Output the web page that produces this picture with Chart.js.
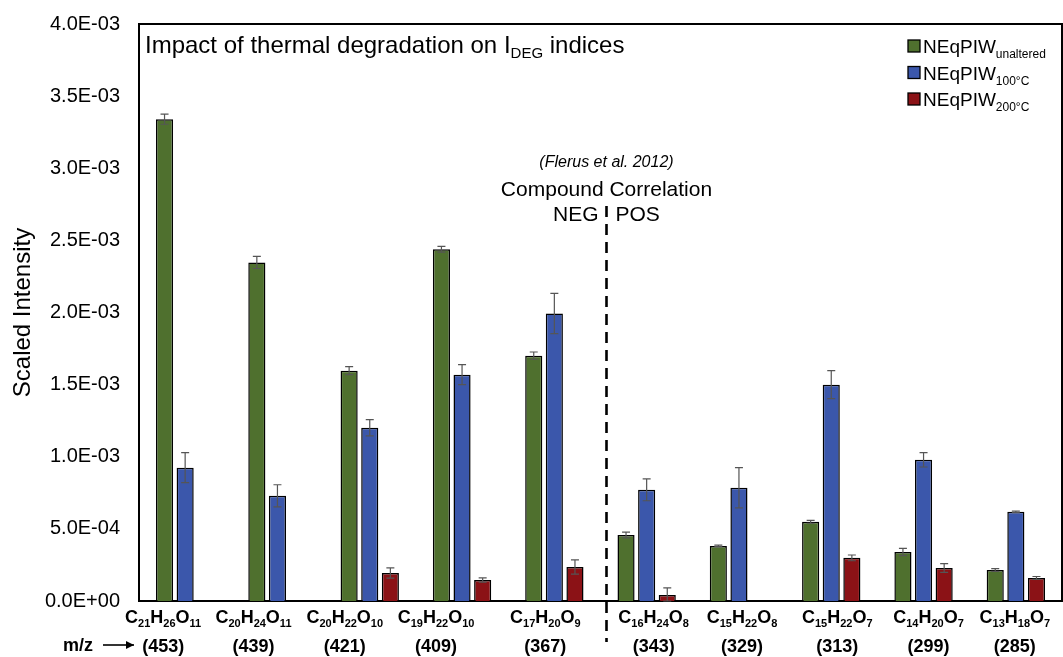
<!DOCTYPE html>
<html>
<head>
<meta charset="utf-8">
<script src="https://cdn.jsdelivr.net/npm/chart.js@4/dist/chart.umd.min.js"></script>
<style>
  body { margin: 0; background: #fff; }
  #wrap { width: 1063px; height: 657px; position: relative; }
</style>
</head>
<body>
<div id="wrap"><canvas id="degChart"></canvas></div>
<script>
const formulas = ["C21H26O11", "C20H24O11", "C20H22O10", "C19H22O10", "C17H20O9",
  "C16H24O8", "C15H22O8", "C15H22O7", "C14H20O7", "C13H18O7"];
const mzValues = ["(453)", "(439)", "(421)", "(409)", "(367)", "(343)", "(329)", "(313)", "(299)", "(285)"];

const unaltered = [3.34e-3, 2.347e-3, 1.597e-3, 2.438e-3, 1.701e-3, 0.458e-3, 0.382e-3, 0.549e-3, 0.34e-3, 0.215e-3];
const unalteredErr = [0.035e-3, 0.042e-3, 0.028e-3, 0.02e-3, 0.025e-3, 0.02e-3, 0.005e-3, 0.01e-3, 0.025e-3, 0.01e-3];
const heated100 = [0.924e-3, 0.729e-3, 1.201e-3, 1.569e-3, 1.993e-3, 0.771e-3, 0.785e-3, 1.5e-3, 0.979e-3, 0.618e-3];
const heated100Err = [0.104e-3, 0.077e-3, 0.056e-3, 0.069e-3, 0.139e-3, 0.076e-3, 0.139e-3, 0.097e-3, 0.05e-3, 0.005e-3];
const heated200 = [null, null, 0.194e-3, 0.146e-3, 0.236e-3, 0.042e-3, null, 0.299e-3, 0.229e-3, 0.16e-3];
const heated200Err = [0, 0, 0.035e-3, 0.015e-3, 0.049e-3, 0.049e-3, 0, 0.02e-3, 0.03e-3, 0.01e-3];

const seriesNames = ["unaltered", "100°C", "200°C"];
const colors = ["#4f702e", "#3b57ab", "#8b1216"];
const errors = [unalteredErr, heated100Err, heated200Err];

// manual shift of the x labels, as in the original figure
const labelNudge = [-22, -24, -25, -26, -9, 7, 3, 6, 5, -1];

const FONT = "'Liberation Sans', Arial, sans-serif";

function sci(v) {
  if (Math.abs(v) < 1e-12) return "0.0E+00";
  const e = Math.floor(Math.log10(v) + 1e-9);
  const m = v / Math.pow(10, e);
  const sign = e < 0 ? "-" : "+";
  return m.toFixed(1) + "E" + sign + String(Math.abs(e)).padStart(2, "0");
}

function drawFormula(ctx, text, cx, y) {
  const parts = text.match(/[A-Z][a-z]?\d*/g);
  const big = "bold 18px " + FONT;
  const small = "bold 11px " + FONT;
  let w = 0;
  parts.forEach((p) => {
    const el = p.match(/[A-Z][a-z]?/)[0];
    const num = p.slice(el.length);
    ctx.font = big; w += ctx.measureText(el).width;
    ctx.font = small; w += ctx.measureText(num).width;
  });
  let x = cx - w / 2;
  ctx.textAlign = "left";
  ctx.textBaseline = "alphabetic";
  parts.forEach((p) => {
    const el = p.match(/[A-Z][a-z]?/)[0];
    const num = p.slice(el.length);
    ctx.font = big; ctx.fillText(el, x, y); x += ctx.measureText(el).width;
    ctx.font = small; ctx.fillText(num, x, y + 4); x += ctx.measureText(num).width;
  });
}

const decorPlugin = {
  id: "decor",
  afterDatasetsDraw(chart) {
    const ctx = chart.ctx;
    const yScale = chart.scales.y;
    ctx.save();
    ctx.strokeStyle = "#555";
    ctx.lineWidth = 1.2;
    chart.data.datasets.forEach((ds, i) => {
      const meta = chart.getDatasetMeta(i);
      meta.data.forEach((bar, j) => {
        const v = ds.data[j];
        if (v === null) return;
        const e = errors[i][j];
        const top = yScale.getPixelForValue(v + e);
        const bot = yScale.getPixelForValue(Math.max(v - e, 0));
        ctx.beginPath();
        ctx.moveTo(bar.x, top); ctx.lineTo(bar.x, bot);
        ctx.moveTo(bar.x - 4, top); ctx.lineTo(bar.x + 4, top);
        ctx.moveTo(bar.x - 4, bot); ctx.lineTo(bar.x + 4, bot);
        ctx.stroke();
      });
    });
    ctx.restore();
  },
  afterDraw(chart) {
    const ctx = chart.ctx;
    const area = chart.chartArea;
    const xScale = chart.scales.x;
    ctx.save();
    ctx.fillStyle = "#000";
    ctx.strokeStyle = "#000";

    // plot frame top / right
    ctx.lineWidth = 2;
    ctx.beginPath();
    ctx.moveTo(area.left - 1, area.top);
    ctx.lineTo(area.right, area.top);
    ctx.lineTo(area.right, area.bottom);
    ctx.stroke();

    // title
    ctx.textBaseline = "alphabetic";
    ctx.textAlign = "left";
    ctx.font = "24px " + FONT;
    let tx = area.left + 6;
    const ty = 53;
    const t1 = "Impact of thermal degradation on I";
    ctx.fillText(t1, tx, ty); tx += ctx.measureText(t1).width;
    ctx.font = "15px " + FONT;
    ctx.fillText("DEG", tx, ty + 5); tx += ctx.measureText("DEG").width;
    ctx.font = "24px " + FONT;
    ctx.fillText(" indices", tx, ty);

    // legend
    seriesNames.forEach((name, i) => {
      const ly = 46 + i * 26.5;
      ctx.fillStyle = colors[i];
      ctx.fillRect(908, ly - 6, 12, 12);
      ctx.lineWidth = 1.3;
      ctx.strokeStyle = "#000";
      ctx.strokeRect(908, ly - 6, 12, 12);
      ctx.fillStyle = "#000";
      ctx.font = "19px " + FONT;
      ctx.textBaseline = "alphabetic";
      ctx.fillText("NEqPIW", 923, ly + 7);
      const w = ctx.measureText("NEqPIW").width;
      ctx.font = "12px " + FONT;
      ctx.fillText(name, 923 + w, ly + 12);
    });

    // x labels
    formulas.forEach((f, i) => {
      const cx = xScale.getPixelForValue(i) + labelNudge[i];
      ctx.fillStyle = "#000";
      drawFormula(ctx, f, cx, area.bottom + 22);
      ctx.font = "bold 18px " + FONT;
      ctx.textAlign = "center";
      ctx.fillText(mzValues[i], cx, area.bottom + 51);
    });
    ctx.textAlign = "left";
    ctx.font = "bold 18px " + FONT;
    ctx.fillText("m/z", 63, area.bottom + 50);
    ctx.lineWidth = 1.6;
    ctx.beginPath();
    ctx.moveTo(103, area.bottom + 44); ctx.lineTo(134, area.bottom + 44);
    ctx.stroke();
    ctx.beginPath();
    ctx.moveTo(134, area.bottom + 44);
    ctx.lineTo(126, area.bottom + 40);
    ctx.lineTo(126, area.bottom + 48);
    ctx.closePath();
    ctx.fill();

    // NEG / POS divider
    const divX = (xScale.getPixelForValue(4) + xScale.getPixelForValue(5)) / 2 + 6;
    ctx.lineWidth = 2.6;
    ctx.setLineDash([11, 7]);
    ctx.beginPath();
    ctx.moveTo(divX, 206);
    ctx.lineTo(divX, 642);
    ctx.stroke();
    ctx.setLineDash([]);

    ctx.textAlign = "center";
    ctx.font = "italic 16px " + FONT;
    ctx.fillText("(Flerus et al. 2012)", divX, 167);
    ctx.font = "21px " + FONT;
    ctx.fillText("Compound Correlation", divX, 196);
    ctx.textAlign = "right";
    ctx.fillText("NEG", divX - 8, 221);
    ctx.textAlign = "left";
    ctx.fillText("POS", divX + 9, 221);
    ctx.restore();
  }
};

new Chart(document.getElementById("degChart"), {
  type: "bar",
  data: {
    labels: formulas,
    datasets: [
      { label: "NEqPIW unaltered", data: unaltered, backgroundColor: colors[0] },
      { label: "NEqPIW 100°C", data: heated100, backgroundColor: colors[1] },
      { label: "NEqPIW 200°C", data: heated200, backgroundColor: colors[2] },
    ].map((d) => Object.assign(d, {
      borderColor: "#000",
      borderWidth: 1.5,
      categoryPercentage: 0.67,
      barPercentage: 0.83,
    })),
  },
  options: {
    responsive: true,
    maintainAspectRatio: false,
    animation: false,
    layout: { padding: { top: 24, right: 1, left: 0, bottom: 0 } },
    plugins: {
      legend: { display: false },
      tooltip: { enabled: false },
    },
    scales: {
      x: {
        grid: { display: false, drawTicks: false },
        border: { display: true, color: "#000", width: 2 },
        ticks: { display: false },
        afterFit: (s) => { s.height = 56; },
      },
      y: {
        min: 0,
        max: 0.004,
        grid: { display: false, drawTicks: false },
        border: { display: true, color: "#000", width: 2 },
        ticks: {
          stepSize: 0.0005,
          padding: 19,
          color: "#000",
          font: { family: FONT, size: 20 },
          callback: (v) => sci(v),
        },
        title: {
          display: true,
          text: "Scaled Intensity",
          color: "#000",
          font: { family: FONT, size: 24 },
          padding: { top: 9, bottom: 0 },
        },
        afterFit: (s) => {
          s.width = 139;
          s.paddingTop = 0;
          s.paddingBottom = 0;
        },
      },
    },
  },
  plugins: [decorPlugin],
});
</script>
</body>
</html>
